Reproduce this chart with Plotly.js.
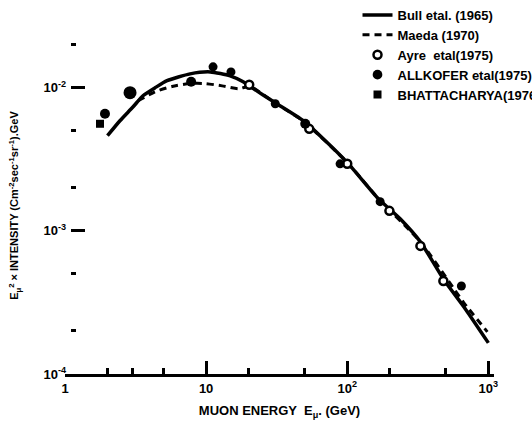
<!DOCTYPE html>
<html><head><meta charset="utf-8">
<script src="https://cdn.plot.ly/plotly-3.0.1.min.js"></script>
<style>html,body{margin:0;padding:0;background:#fff}</style>
</head><body>
<div id="chart" style="width:532px;height:427px"></div>
<script>
// Bull et al. (1965) - solid curve
const bullE = [2.0, 2.45, 3.04, 3.57, 4.35, 5.29, 7.7, 10.7, 14.8, 18.3, 20.2, 30.9, 48.8, 67.6, 102, 166, 238, 330, 480, 687, 1000];
const bullI = [4.62e-3, 5.88e-3, 7.36e-3, 8.79e-3, 1.0e-2, 1.12e-2, 1.25e-2, 1.29e-2, 1.21e-2, 1.10e-2, 1.03e-2, 7.85e-3, 5.88e-3, 4.40e-3, 2.94e-3, 1.68e-3, 1.21e-3, 8.38e-4, 4.61e-4, 2.85e-4, 1.65e-4];
// Maeda (1970) - dashed curve
const maedaE = [3.3, 4.35, 5.74, 7.7, 9.84, 13.0, 16.9, 20.5, 30.9, 48.8, 102, 166, 330, 565, 665, 984];
const maedaI = [8.11e-3, 9.38e-3, 1.02e-2, 1.07e-2, 1.07e-2, 1.03e-2, 9.84e-3, 1.02e-2, 7.8e-3, 5.85e-3, 2.94e-3, 1.68e-3, 8.38e-4, 3.99e-4, 3.18e-4, 1.97e-4];
// Ayre et al. (1975) - open circles
const ayreE = [20.2, 53.8, 100, 199, 330, 480];
const ayreI = [1.05e-2, 5.16e-3, 2.94e-3, 1.38e-3, 7.85e-4, 4.47e-4];
// Allkofer et al. (1975) - filled circles
const allkoferE = [1.92, 2.89, 7.83, 11.2, 15.0, 30.9, 50.4, 89, 171, 644];
const allkoferI = [6.58e-3, 9.23e-3, 1.10e-2, 1.40e-2, 1.29e-2, 7.73e-3, 5.6e-3, 2.94e-3, 1.60e-3, 4.12e-4];
// Bhattacharya (1976) - squares
const bhattE = [1.77];
const bhattI = [5.6e-3];
// tick labels
const xTickVals = [1, 10, 100, 1000];
const xTickText = ['1', '10', '10<sup>2</sup>', '10<sup>3</sup>'];
const xMinorVals = [2, 3, 5, 20, 50, 200, 500];
const yTickVals = [1e-4, 1e-3, 1e-2];
const yTickText = ['10<sup>-4</sup>', '10<sup>-3</sup>', '10<sup>-2</sup>'];
const yMinorVals = [2e-4, 5e-4, 2e-3, 5e-3, 2e-2];

const allkoferSizes = [10, 13, 10, 9, 9, 9, 10, 9, 9, 9];

const traces = [
  {x: bullE, y: bullI, name: 'Bull etal. (1965)', mode: 'lines', line: {color: '#000', width: 3.5, shape: 'spline', smoothing: 0.6}},
  {x: maedaE, y: maedaI, name: 'Maeda (1970)', mode: 'lines', line: {color: '#000', width: 3, dash: '7px,5px', shape: 'spline', smoothing: 0.6}},
  {x: ayreE, y: ayreI, name: 'Ayre  etal(1975)', mode: 'markers', marker: {symbol: 'circle', color: '#fff', size: 8, opacity: 1, line: {color: '#000', width: 2.5}}},
  {x: allkoferE, y: allkoferI, name: 'ALLKOFER etal(1975)', mode: 'markers', marker: {symbol: 'circle', color: '#000', size: allkoferSizes, opacity: 1, line: {width: 0}}},
  {x: bhattE, y: bhattI, name: 'BHATTACHARYA(1976)', mode: 'markers', marker: {symbol: 'square', color: '#000', size: 8, opacity: 1}}
];

const font = {family: 'Liberation Sans, Arial, sans-serif', color: '#000', size: 12, weight: 700};

const layout = {
  width: 532, height: 427,
  margin: {l: 65, r: 38, t: 9, b: 53, autoexpand: false},
  paper_bgcolor: '#fff', plot_bgcolor: '#fff',
  font: font,
  showlegend: true,
  legend: {xref: 'container', yref: 'container', x: 0.672, y: 1.0, xanchor: 'left', yanchor: 'top',
           bgcolor: 'rgba(0,0,0,0)', font: {family: font.family, size: 13, color: '#000', weight: 700},
           itemwidth: 30, tracegroupgap: 0},
  xaxis: {
    type: 'log', range: [0, 3.04],
    showgrid: false, zeroline: false,
    showline: true, linecolor: '#000', linewidth: 3,
    tickmode: 'array', tickvals: xTickVals, ticktext: xTickText,
    ticks: 'inside', ticklen: 13, tickwidth: 3, tickcolor: '#000',
    tickfont: {family: font.family, size: 13, color: '#000', weight: 700},
    minor: {tickmode: 'array', tickvals: xMinorVals, ticks: 'inside', ticklen: 6, tickwidth: 3, tickcolor: '#000', showgrid: false},
    title: {text: 'MUON ENERGY  E<sub>μ</sub>. (GeV)', font: {family: font.family, size: 13, color: '#000', weight: 700}, standoff: 12},
    automargin: false
  },
  yaxis: {
    type: 'log', range: [-4, -1.45],
    anchor: 'free', position: 0.012,
    showgrid: false, zeroline: false, showline: false,
    tickmode: 'array', tickvals: yTickVals, ticktext: yTickText,
    ticks: 'inside', ticklen: 14, tickwidth: 3, tickcolor: '#000',
    ticklabelstandoff: 4,
    tickfont: {family: font.family, size: 13, color: '#000', weight: 700},
    minor: {tickmode: 'array', tickvals: yMinorVals, ticks: 'inside', ticklen: 5, tickwidth: 3, tickcolor: '#000', showgrid: false},
    automargin: false
  },
  annotations: [{
    xref: 'paper', yref: 'paper', x: -0.117, y: 0.463, xanchor: 'center', yanchor: 'middle',
    textangle: -90, showarrow: false,
    text: 'E<sub>μ</sub><sup>2</sup> × INTENSITY (Cm<sup>-2</sup>sec<sup>-1</sup>sr<sup>-1</sup>).GeV',
    font: {family: font.family, size: 11, color: '#000', weight: 700}
  }]
};

Plotly.newPlot('chart', traces, layout, {staticPlot: true, displayModeBar: false});
</script>
</body></html>
